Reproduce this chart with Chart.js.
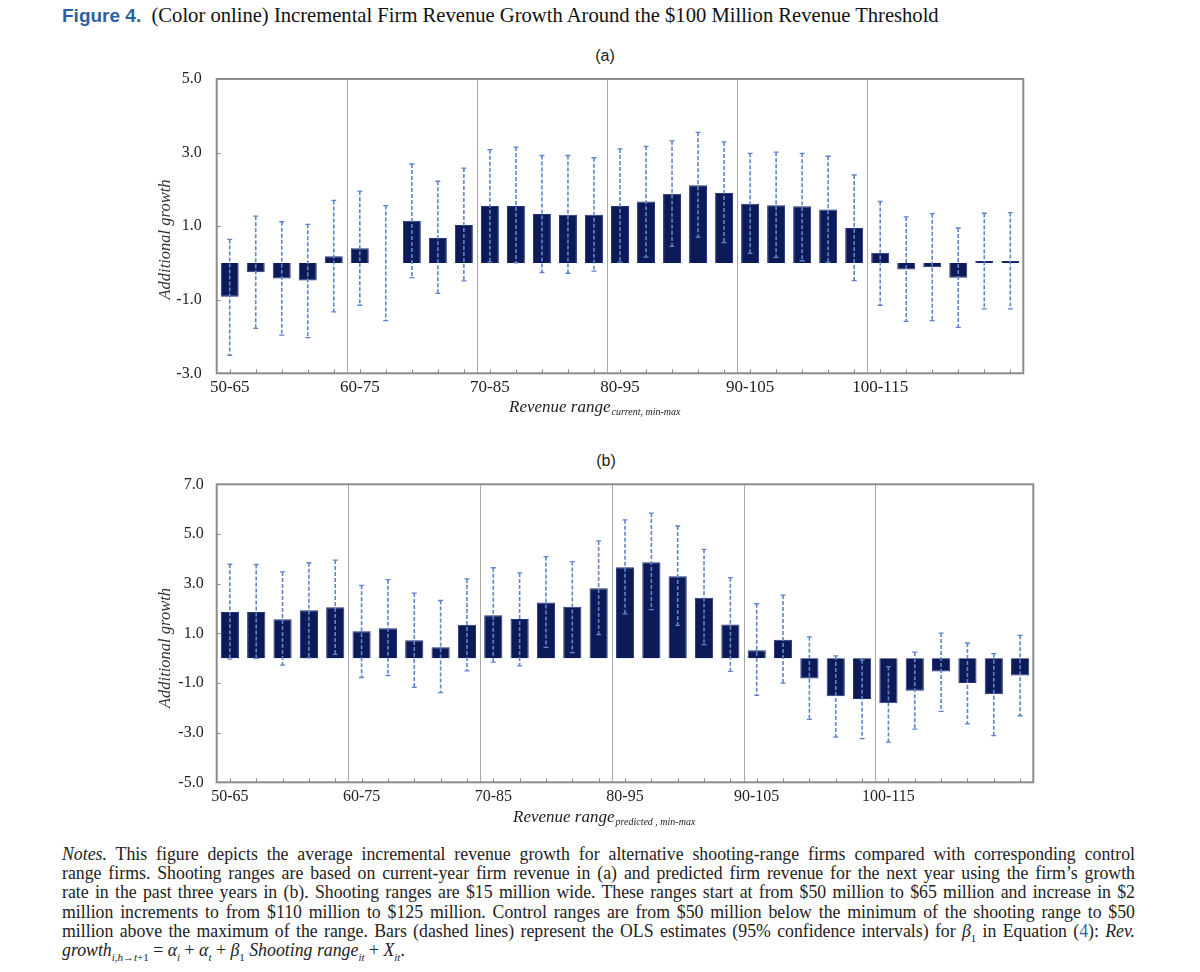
<!DOCTYPE html>
<html>
<head>
<meta charset="utf-8">
<script src="https://cdn.jsdelivr.net/npm/chart.js@4/dist/chart.umd.min.js"></script>
<style>
  html, body { margin: 0; padding: 0; background: #fff; }
  body { width: 1200px; height: 972px; position: relative; overflow: hidden; }
  .abs { position: absolute; }
  #caption { left: 62px; top: 4px; font-family: "Liberation Serif", serif; font-size: 20.6px; color: #111; white-space: nowrap; }
  #caption .fig { font-family: "Liberation Sans Narrow", "Liberation Sans", sans-serif; font-weight: bold; color: #2d5fa6; font-size: 19px; }
  .panel { font-family: "Liberation Sans", Arial, sans-serif; font-size: 16px; color: #222; width: 60px; text-align: center; }
  #notes { left: 62px; top: 845px; width: 1073px; font-family: "Liberation Serif", serif; font-size: 17.8px; line-height: 19.2px; color: #222; }
  #notes .ln { text-align: justify; text-align-last: justify; white-space: nowrap; }
  #notes .last { text-align: left; text-align-last: left; }
  #notes sub { font-size: 11px; line-height: 0; }
  .blue { color: #2d5fa6; }
</style>
</head>
<body>
<div id="caption" class="abs"><span class="fig">Figure 4.</span>&nbsp; (Color online) Incremental Firm Revenue Growth Around the $100 Million Revenue Threshold</div>
<div class="abs panel" style="left:575px; top:47px;">(a)</div>
<div class="abs panel" style="left:576px; top:452px;">(b)</div>
<div class="abs" style="left:0; top:40px; width:1200px; height:400px;"><canvas id="chartA"></canvas></div>
<div class="abs" style="left:0; top:440px; width:1200px; height:400px;"><canvas id="chartB"></canvas></div>
<div id="notes" class="abs">
  <div class="ln"><i>Notes.</i> This figure depicts the average incremental revenue growth for alternative shooting-range firms compared with corresponding control</div>
  <div class="ln">range firms. Shooting ranges are based on current-year firm revenue in (a) and predicted firm revenue for the next year using the firm’s growth</div>
  <div class="ln">rate in the past three years in (b). Shooting ranges are $15 million wide. These ranges start at from $50 million to $65 million and increase in $2</div>
  <div class="ln">million increments to from $110 million to $125 million. Control ranges are from $50 million below the minimum of the shooting range to $50</div>
  <div class="ln">million above the maximum of the range. Bars (dashed lines) represent the OLS estimates (95% confidence intervals) for <i>β</i><sub>1</sub> in Equation (<span class="blue">4</span>): <i>Rev.</i></div>
  <div class="ln last"><i>growth</i><sub><i>i,h</i>→<i>t</i>+1</sub> = <i>α<sub>i</sub></i> + <i>α<sub>t</sub></i> + <i>β</i><sub>1</sub> <i>Shooting range<sub>it</sub></i> + <i>X<sub>it</sub></i>.</div>
</div>
<script>
// ---------- DATA ----------
const categories = ["50-65","52-67","54-69","56-71","58-73","60-75","62-77","64-79","66-81","68-83",
  "70-85","72-87","74-89","76-91","78-93","80-95","82-97","84-99","86-101","88-103",
  "90-105","92-107","94-109","96-111","98-113","100-115","102-117","104-119","106-121","108-123","110-125"];
const shownTickLabels = ["50-65","60-75","70-85","80-95","90-105","100-115"];
const separatorBefore = ["60-75","70-85","80-95","90-105","100-115"];

// Panel (a): current revenue
const estA = [-0.92,-0.25,-0.42,-0.48,0.18,0.40,0.00,1.15,0.68,1.03,1.55,1.55,1.33,1.31,1.31,1.55,1.67,1.88,2.11,1.90,1.61,1.57,1.54,1.45,0.95,0.28,-0.18,-0.12,-0.40,0.05,0.05];
const hiA  = [0.64,1.27,1.12,1.05,1.70,1.95,1.56,2.69,2.22,2.58,3.08,3.15,2.92,2.92,2.86,3.10,3.17,3.32,3.55,3.29,2.98,3.01,2.98,2.90,2.39,1.67,1.25,1.34,0.95,1.35,1.37];
const loA  = [-2.51,-1.78,-1.96,-2.03,-1.33,-1.15,-1.57,-0.40,-0.83,-0.49,0.03,0.00,-0.26,-0.28,-0.22,0.02,0.16,0.45,0.70,0.55,0.26,0.15,0.06,0.02,-0.48,-1.15,-1.59,-1.57,-1.75,-1.25,-1.25];
const yTicksA = [5.0, 3.0, 1.0, -1.0, -3.0];

// Panel (b): predicted revenue
const estB = [1.86,1.86,1.57,1.93,2.05,1.08,1.20,0.72,0.44,1.34,1.73,1.58,2.24,2.07,2.81,3.66,3.86,3.30,2.43,1.35,0.32,0.74,-0.82,-1.53,-1.65,-1.82,-1.31,-0.54,-1.00,-1.45,-0.70];
const hiB  = [3.78,3.77,3.47,3.84,3.95,2.93,3.16,2.62,2.32,3.19,3.64,3.43,4.09,3.89,4.72,5.57,5.84,5.32,4.38,3.24,2.19,2.54,0.86,0.09,-0.07,-0.34,0.24,1.01,0.61,0.18,0.92];
const loB  = [-0.04,-0.01,-0.28,0.01,0.15,-0.78,-0.70,-1.18,-1.39,-0.51,-0.16,-0.31,0.43,0.22,0.95,1.78,1.95,1.32,0.54,-0.53,-1.50,-1.01,-2.47,-3.18,-3.24,-3.38,-2.86,-2.14,-2.65,-3.12,-2.32];
const yTicksB = [7.0, 5.0, 3.0, 1.0, -1.0, -3.0, -5.0];

// ---------- RENDERING ----------
const SERIF = '"Liberation Serif", "Times New Roman", serif';

function makeChart(id, est, lo, hi, yTicks, cfg) {
  const yMin = Math.min(...yTicks), yMax = Math.max(...yTicks);
  const deco = {
    id: 'deco_' + id,
    afterDatasetsDraw(chart) {
      const ctx = chart.ctx, a = chart.chartArea;
      const xs = chart.scales.x, ys = chart.scales.y;
      ctx.save();
      // separators
      ctx.strokeStyle = '#a8a8a8'; ctx.lineWidth = 1;
      separatorBefore.forEach(lbl => {
        const i = categories.indexOf(lbl);
        const x = (xs.getPixelForValue(i - 1) + xs.getPixelForValue(i)) / 2;
        ctx.beginPath(); ctx.moveTo(Math.round(x) + 0.5, a.top); ctx.lineTo(Math.round(x) + 0.5, a.bottom); ctx.stroke();
      });
      // error bars
      ctx.strokeStyle = '#5f84cc'; ctx.lineWidth = 1.6;
      for (let i = 0; i < categories.length; i++) {
        const x = xs.getPixelForValue(i);
        const yl = ys.getPixelForValue(lo[i]), yh = ys.getPixelForValue(hi[i]);
        ctx.setLineDash([4, 2]);
        ctx.beginPath(); ctx.moveTo(x, yh); ctx.lineTo(x, yl); ctx.stroke();
        ctx.setLineDash([]);
        ctx.lineWidth = 1.3;
        ctx.beginPath();
        ctx.moveTo(x - 2.5, yh); ctx.lineTo(x + 2.5, yh);
        ctx.moveTo(x - 2.5, yl); ctx.lineTo(x + 2.5, yl);
        ctx.stroke();
        ctx.lineWidth = 1.6;
      }
      // box
      ctx.strokeStyle = '#8c8c8c'; ctx.lineWidth = 2;
      ctx.strokeRect(a.left, a.top, a.right - a.left, a.bottom - a.top);
      // ticks (inward)
      ctx.lineWidth = 1; ctx.strokeStyle = '#8c8c8c';
      for (let i = 0; i < categories.length; i++) {
        const x = Math.round(xs.getPixelForValue(i)) + 0.5;
        ctx.beginPath(); ctx.moveTo(x, a.bottom); ctx.lineTo(x, a.bottom - 4); ctx.stroke();
      }
      yTicks.forEach(v => {
        const y = Math.round(ys.getPixelForValue(v)) + 0.5;
        ctx.beginPath(); ctx.moveTo(a.left, y); ctx.lineTo(a.left + 4, y); ctx.stroke();
      });
      // y title
      ctx.fillStyle = '#333';
      ctx.font = 'italic 16.5px ' + SERIF;
      ctx.textAlign = 'center'; ctx.textBaseline = 'middle';
      ctx.save();
      ctx.translate(cfg.yTitleX, cfg.yTitleY);
      ctx.rotate(-Math.PI / 2);
      ctx.fillText('Additional growth', 0, 0);
      ctx.restore();
      // x title with subscript
      ctx.textAlign = 'left'; ctx.textBaseline = 'alphabetic';
      ctx.fillStyle = '#222';
      ctx.font = 'italic 17px ' + SERIF;
      const main = 'Revenue range';
      ctx.fillText(main, cfg.xTitleX, cfg.xTitleY);
      const w = ctx.measureText(main).width;
      ctx.font = 'italic 10px ' + SERIF;
      ctx.fillText(cfg.sub, cfg.xTitleX + w + 1, cfg.xTitleY + 3);
      ctx.restore();
    }
  };
  return new Chart(document.getElementById(id), {
    type: 'bar',
    data: {
      labels: categories,
      datasets: [{
        data: est,
        backgroundColor: '#0c1b58',
        borderColor: '#22337a',
        borderWidth: 1,
        barPercentage: 0.69,
        categoryPercentage: 1.0
      }]
    },
    options: {
      responsive: true,
      maintainAspectRatio: false,
      animation: false,
      devicePixelRatio: 1,
      layout: { padding: { left: 0, right: cfg.padRight, top: cfg.padTop, bottom: 0 } },
      plugins: { legend: { display: false }, tooltip: { enabled: false }, title: { display: false } },
      scales: {
        x: {
          grid: { display: false, drawTicks: false },
          border: { display: false },
          ticks: {
            autoSkip: false, maxRotation: 0, minRotation: 0, padding: cfg.xPad,
            color: '#222', font: { family: SERIF, size: cfg.xFont },
            callback: (v, i) => shownTickLabels.includes(categories[i]) ? categories[i] : ''
          },
          afterFit: s => { s.height = cfg.xAxisH; }
        },
        y: {
          min: yMin, max: yMax,
          grid: { display: false, drawTicks: false },
          border: { display: false },
          afterBuildTicks: s => { s.ticks = yTicks.map(v => ({ value: v })); },
          ticks: {
            padding: cfg.yPad, color: '#222', font: { family: SERIF, size: 16 },
            callback: v => Number(v).toFixed(1)
          },
          afterFit: s => { s.width = 216.7; }
        }
      }
    },
    plugins: [deco]
  });
}

makeChart('chartA', estA, loA, hiA, yTicksA, {
  padRight: 1200 - 1023.3, padTop: 39, xAxisH: 400 - 333.3, yPad: 15, xFont: 17, xPad: 4,
  yTitleX: 166, yTitleY: 239.5 - 40, xTitleX: 509, xTitleY: 412 - 40, sub: 'current, min-max'
});
makeChart('chartB', estB, loB, hiB, yTicksB, {
  padRight: 1200 - 1033.3, padTop: 44.3, xAxisH: 840 - 782.3, yPad: 13, xFont: 16, xPad: 5,
  yTitleX: 166, yTitleY: 648 - 440, xTitleX: 513, xTitleY: 822 - 440, sub: 'predicted , min-max'
});
</script>
</body>
</html>
